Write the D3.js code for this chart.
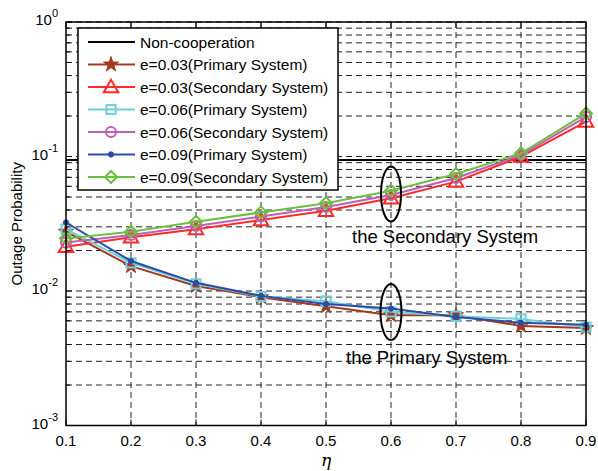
<!DOCTYPE html>
<html>
<head>
<script src="https://cdn.jsdelivr.net/npm/d3@7"></script>
<style>
  body { margin: 0; background: #fff; }
  text { font-family: "Liberation Sans", Arial, sans-serif; fill: #000; }
</style>
</head>
<body>
<div id="chart"></div>
<script>
// eta values along the x axis
var eta = [0.1, 0.2, 0.3, 0.4, 0.5, 0.6, 0.7, 0.8, 0.9];
var xTicks = [0.1, 0.2, 0.3, 0.4, 0.5, 0.6, 0.7, 0.8, 0.9];
var yMajor = [1, 0.1, 0.01, 0.001];
var yMajorExp = ["0", "-1", "-2", "-3"];

// outage probability
var nonCoop = 0.094;
var prim003 = [0.0276, 0.0153, 0.0109, 0.0090, 0.0077, 0.0066, 0.0066, 0.0055, 0.0053];
var sec003  = [0.0213, 0.0251, 0.0288, 0.0337, 0.0395, 0.0489, 0.0650, 0.0997, 0.182];
var prim006 = [0.0288, 0.0162, 0.0113, 0.0091, 0.0084, 0.0070, 0.0065, 0.0062, 0.0054];
var sec006  = [0.0229, 0.0261, 0.0304, 0.0358, 0.0421, 0.0517, 0.0692, 0.1026, 0.197];
var prim009 = [0.0323, 0.0167, 0.0115, 0.0092, 0.0080, 0.0074, 0.0064, 0.0058, 0.0056];
var sec009  = [0.0246, 0.0276, 0.0327, 0.0384, 0.0449, 0.0557, 0.0741, 0.1057, 0.209];

var labels = ["Non-cooperation",
  "e=0.03(Primary System)", "e=0.03(Secondary System)",
  "e=0.06(Primary System)", "e=0.06(Secondary System)",
  "e=0.09(Primary System)", "e=0.09(Secondary System)"];

var series = [
  {vals: prim003, color: "#a33a1f", mark: "star"},
  {vals: sec003,  color: "#ff2a2a", mark: "triangle"},
  {vals: prim006, color: "#6fd0dc", mark: "square"},
  {vals: sec006,  color: "#bf5fb5", mark: "circle"},
  {vals: prim009, color: "#2d4ca6", mark: "dot"},
  {vals: sec009,  color: "#6cc041", mark: "diamond"}
];

var width = 598, height = 471;
var pLeft = 66, pRight = 586, pTop = 22, pBottom = 425.5;

var svg = d3.select("#chart").append("svg")
  .attr("width", width)
  .attr("height", height);

var x = d3.scaleLinear().domain([0.1, 0.9]).range([pLeft, pRight]);
var y = d3.scaleLog().domain([0.001, 1]).range([pBottom, pTop]);

// minor log positions
var yMinor = [];
[0.001, 0.01, 0.1].forEach(function(d){
  for (var k = 2; k <= 9; k++) yMinor.push(d * k);
});
var yAll = yMajor.concat(yMinor);

// grid
var grid = svg.append("g");
grid.selectAll("line.hg").data(yAll).enter().append("line")
  .attr("class", "hg")
  .attr("x1", pLeft).attr("x2", pRight)
  .attr("y1", function(d){ return y(d); })
  .attr("y2", function(d){ return y(d); })
  .attr("stroke", "#222").attr("stroke-width", 1)
  .attr("stroke-dasharray", "6,4");
grid.selectAll("line.vg").data(xTicks.slice(1, -1)).enter().append("line")
  .attr("class", "vg")
  .attr("x1", function(d){ return x(d); })
  .attr("x2", function(d){ return x(d); })
  .attr("y1", pTop).attr("y2", pBottom)
  .attr("stroke", "#222").attr("stroke-width", 1)
  .attr("stroke-dasharray", "6,4");

// ticks (inward, both sides)
var ticks = svg.append("g").attr("stroke", "#000").attr("stroke-width", 1);
yAll.forEach(function(d){
  var len = yMajor.indexOf(d) >= 0 ? 6 : 4;
  ticks.append("line").attr("x1", pLeft).attr("x2", pLeft + len).attr("y1", y(d)).attr("y2", y(d));
  ticks.append("line").attr("x1", pRight).attr("x2", pRight - len).attr("y1", y(d)).attr("y2", y(d));
});
xTicks.forEach(function(d){
  ticks.append("line").attr("x1", x(d)).attr("x2", x(d)).attr("y1", pBottom).attr("y2", pBottom - 6);
  ticks.append("line").attr("x1", x(d)).attr("x2", x(d)).attr("y1", pTop).attr("y2", pTop + 6);
});

// non-cooperation line
svg.append("line")
  .attr("x1", pLeft).attr("x2", pRight)
  .attr("y1", y(nonCoop)).attr("y2", y(nonCoop))
  .attr("stroke", "#000").attr("stroke-width", 2);

var line = d3.line()
  .x(function(d, i){ return x(eta[i]); })
  .y(function(d){ return y(d); });

function markerPath(mark){
  if (mark == "star") return d3.symbol().type(d3.symbolStar).size(70)();
  if (mark == "triangle") return d3.symbol().type(d3.symbolTriangle).size(90)();
  if (mark == "square") return d3.symbol().type(d3.symbolSquare).size(85)();
  if (mark == "circle") return d3.symbol().type(d3.symbolCircle).size(80)();
  if (mark == "dot") return d3.symbol().type(d3.symbolCircle).size(22)();
  return "M0,-6L6,0L0,6L-6,0Z";
}

function drawMarker(g, mark, color, cx, cy){
  var filled = (mark == "star" || mark == "dot");
  g.append("path")
    .attr("d", markerPath(mark))
    .attr("transform", "translate(" + cx + "," + cy + ")" + (mark == "triangle" ? " translate(0,1)" : ""))
    .attr("fill", filled ? color : "none")
    .attr("stroke", color)
    .attr("stroke-width", filled ? 1 : 2);
}

var lines = svg.append("g");
series.forEach(function(s){
  lines.append("path")
    .attr("d", line(s.vals))
    .attr("fill", "none")
    .attr("stroke", s.color)
    .attr("stroke-width", 2);
  s.vals.forEach(function(v, i){
    drawMarker(lines, s.mark, s.color, x(eta[i]), y(v));
  });
});

// axes border
svg.append("rect")
  .attr("x", pLeft).attr("y", pTop)
  .attr("width", pRight - pLeft).attr("height", pBottom - pTop)
  .attr("fill", "none").attr("stroke", "#000").attr("stroke-width", 1.5);

// tick labels
svg.selectAll("text.xt").data(xTicks).enter().append("text")
  .attr("class", "xt")
  .attr("x", function(d){ return x(d); })
  .attr("y", pBottom + 20)
  .attr("text-anchor", "middle")
  .attr("font-size", 15)
  .text(function(d){ return d3.format(".1f")(d); });

yMajor.forEach(function(d, i){
  var t = svg.append("text")
    .attr("x", pLeft - 8)
    .attr("y", y(d) + 3)
    .attr("text-anchor", "end")
    .attr("font-size", 15);
  t.append("tspan").text("10");
  t.append("tspan").attr("dy", -8).attr("font-size", 11).text(yMajorExp[i]);
});

// axis titles
svg.append("text")
  .attr("transform", "translate(22," + ((pTop + pBottom) / 2) + ") rotate(-90)")
  .attr("text-anchor", "middle")
  .attr("font-size", 15)
  .text("Outage Probability");

svg.append("text")
  .attr("x", (pLeft + pRight) / 2)
  .attr("y", 466)
  .attr("text-anchor", "middle")
  .attr("font-size", 17)
  .style("font-family", "'DejaVu Serif', serif")
  .style("font-style", "italic")
  .text("\u03B7");

// annotations
svg.append("ellipse")
  .attr("cx", x(0.6)).attr("cy", 194)
  .attr("rx", 10).attr("ry", 27.5)
  .attr("fill", "none").attr("stroke", "#000").attr("stroke-width", 2);
svg.append("text")
  .attr("x", 352).attr("y", 243)
  .attr("font-size", 18.5)
  .text("the Secondary System");

svg.append("ellipse")
  .attr("cx", x(0.6)).attr("cy", 312)
  .attr("rx", 10.5).attr("ry", 28)
  .attr("fill", "none").attr("stroke", "#000").attr("stroke-width", 2);
svg.append("text")
  .attr("x", 346).attr("y", 364)
  .attr("font-size", 18.5)
  .text("the Primary System");

// legend
var lg = svg.append("g");
lg.append("rect")
  .attr("x", 78).attr("y", 28)
  .attr("width", 260).attr("height", 162)
  .attr("fill", "#fff").attr("stroke", "#000").attr("stroke-width", 1.5);

labels.forEach(function(lab, i){
  var ly = 42 + i * 22.5;
  var color = i == 0 ? "#000" : series[i - 1].color;
  lg.append("line")
    .attr("x1", 88).attr("x2", 135)
    .attr("y1", ly).attr("y2", ly)
    .attr("stroke", color).attr("stroke-width", 2);
  if (i > 0) drawMarker(lg, series[i - 1].mark, color, 111, ly);
  lg.append("text")
    .attr("x", 140).attr("y", ly + 5.5)
    .attr("font-size", 15.5)
    .text(lab);
});
</script>
</body>
</html>
